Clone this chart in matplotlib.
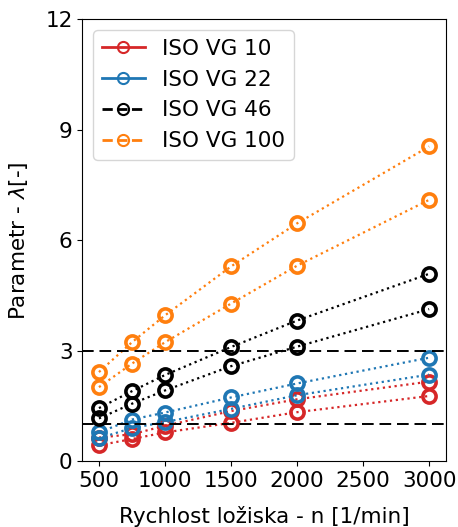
import matplotlib.pyplot as plt
from matplotlib.lines import Line2D

speeds = [500, 750, 1000, 1500, 2000, 3000]

vg10_hi = [0.64, 0.73, 0.96, 1.36, 1.68, 2.16]
vg10_lo = [0.43, 0.60, 0.78, 1.04, 1.33, 1.77]
vg22_hi = [0.78, 1.13, 1.32, 1.73, 2.11, 2.81]
vg22_lo = [0.62, 0.90, 1.06, 1.42, 1.79, 2.35]
vg46_hi = [1.44, 1.90, 2.34, 3.10, 3.82, 5.09]
vg46_lo = [1.16, 1.56, 1.92, 2.58, 3.11, 4.13]
vg100_hi = [2.42, 3.23, 3.96, 5.29, 6.46, 8.55]
vg100_lo = [2.01, 2.65, 3.23, 4.28, 5.31, 7.10]

labels = ['ISO VG 10', 'ISO VG 22', 'ISO VG 46', 'ISO VG 100']
colors = ['#d62728', '#1f77b4', 'black', '#ff7f0e']
legend_styles = ['-', '-', '--', '--']
limits = [1, 3]

plt.rcParams['font.size'] = 15.5

fig, ax = plt.subplots(figsize=(4.58, 5.27), dpi=100)

series = [(vg10_hi, vg10_lo), (vg22_hi, vg22_lo), (vg46_hi, vg46_lo), (vg100_hi, vg100_lo)]
for (hi, lo), color in zip(series, colors):
    for vals in (hi, lo):
        ax.plot(speeds, vals, linestyle=':', color=color, linewidth=1.6,
                marker='o', markersize=9.5, markerfacecolor='none',
                markeredgewidth=2.6)

for lim in limits:
    ax.axhline(lim, color='black', linestyle='--', linewidth=1.4, dashes=(6, 3))

handles = [Line2D([0], [0], color=c, linestyle=s, linewidth=2, marker='o',
                  markersize=8, markerfacecolor='none', markeredgewidth=1.5)
           for c, s in zip(colors, legend_styles)]
ax.legend(handles, labels, loc='upper left', handlelength=2)

ax.set_xlim(375, 3125)
ax.set_ylim(0, 12)
ax.set_xticks([500, 1000, 1500, 2000, 2500, 3000])
ax.set_yticks([0, 3, 6, 9, 12])
ax.set_xlabel('Rychlost ložiska - n [1/min]', labelpad=11)
ax.set_ylabel('Parametr - $\\lambda$[-]', labelpad=11)

plt.subplots_adjust(left=0.18, right=0.973, top=0.963, bottom=0.125)
plt.savefig('out.png', dpi=100)
